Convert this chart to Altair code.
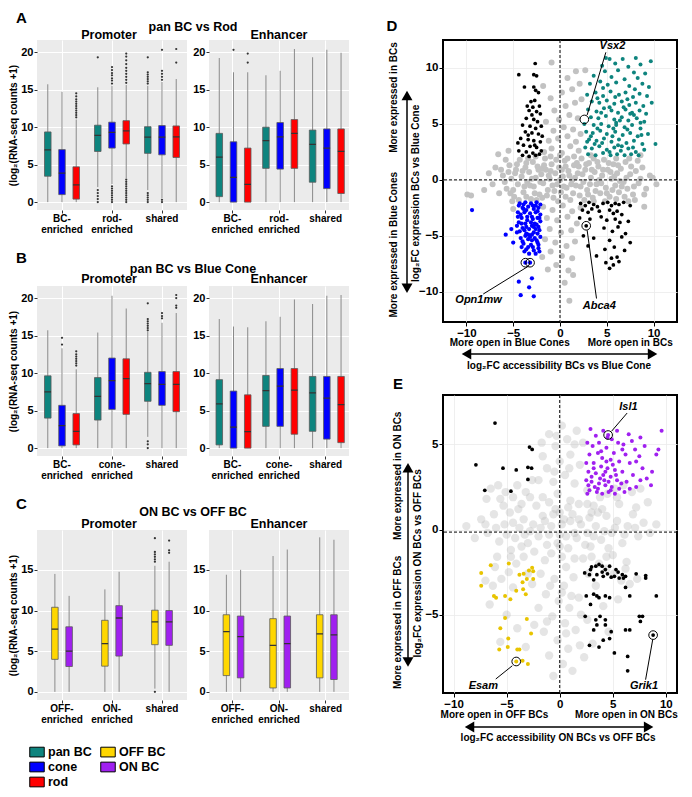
import altair as alt
import pandas as pd

FONT = "Liberation Sans"

# ---------------- categories / legend ----------------
SERIES_ROD = ["pan BC", "cone", "rod"]
SERIES_ONOFF = ["OFF BC", "ON BC"]
GROUPS_A = ["BC-enriched", "rod-enriched", "shared"]
GROUPS_B = ["BC-enriched", "cone-enriched", "shared"]
GROUPS_C = ["OFF-enriched", "ON-enriched", "shared"]
LEGEND_ORDER = ["pan BC", "cone", "rod", "OFF BC", "ON BC"]
LEGEND_COLORS = ["#0E847E", "#0000FF", "#FF0000", "#FFD700", "#A020F0"]

# ---------------- box-plot summaries: (lower whisker, Q1, median, Q3, upper whisker) ----------------
A_PROMOTER = [
    (0.0, 3.45, 6.95, 9.35, 15.7), (0.0, 1.0, 3.85, 7.0, 14.7), (0.0, 0.4, 2.3, 4.7, 11.0),
    (2.0, 6.75, 8.9, 10.25, 15.3), (2.4, 7.2, 9.3, 10.65, 15.5), (3.2, 7.75, 9.5, 10.85, 15.6),
    (1.6, 6.5, 8.65, 10.05, 15.5), (0.5, 6.3, 8.65, 10.2, 16.0), (0.0, 5.95, 8.7, 10.15, 16.4),
]
A_PROMOTER_OUTLIERS = [
    [], [], [11.3, 11.6, 11.9, 12.2, 12.5, 12.8, 13.1, 13.4, 13.7, 14.1, 14.5],
    [19.3, 0.0, 0.4, 0.8, 1.2, 1.6],
    [15.8, 16.2, 16.5, 16.9, 17.2, 17.6, 18.0, 0.0, 0.3, 0.6, 0.9, 1.2, 1.5, 1.8, 2.1],
    [15.9, 16.3, 16.7, 17.1, 17.5, 17.9, 18.4, 18.9, 19.4, 19.8, 0.0, 0.3, 0.6, 0.9, 1.2, 1.5, 1.8, 2.1, 2.4, 2.7, 3.0],
    [15.8, 16.1, 16.4, 16.7, 17.0, 17.3, 19.3, 0.0, 0.3, 0.6, 0.9, 1.2],
    [16.3, 16.7, 17.1, 17.5, 20.3, 0.0, 0.3],
    [18.6, 20.4],
]
A_ENHANCER = [
    (0.0, 0.73, 6.0, 9.16, 19.2), (0.0, 0.0, 3.3, 8.04, 17.3), (0.0, 0.0, 2.37, 7.2, 17.3),
    (0.0, 4.5, 8.2, 9.98, 16.9), (0.0, 4.4, 8.7, 10.6, 17.5), (0.0, 4.5, 9.15, 11.0, 20.4),
    (0.0, 2.65, 7.7, 9.6, 19.3), (0.0, 1.8, 7.2, 9.75, 20.3), (0.0, 1.15, 6.75, 9.75, 19.9),
]
A_ENHANCER_OUTLIERS = [[], [20.3], [18.6, 19.8], [], [], [], [], [], []]

B_PROMOTER = [
    (0.0, 4.0, 7.5, 9.63, 15.7), (0.0, 0.3, 3.0, 5.7, 13.3), (0.0, 0.43, 2.24, 4.6, 10.5),
    (0.0, 3.74, 6.9, 9.4, 15.4), (0.0, 5.16, 9.0, 12.0, 20.3), (0.0, 4.5, 9.25, 11.9, 18.6),
    (1.5, 6.24, 8.6, 10.1, 15.5), (0.0, 5.7, 8.5, 10.2, 16.7), (0.0, 4.86, 8.5, 10.2, 18.0),
]
B_PROMOTER_OUTLIERS = [
    [], [13.8, 14.7], [11.0, 11.3, 11.6, 11.9, 12.2, 12.5, 12.9],
    [], [], [],
    [15.7, 16.0, 16.3, 16.6, 16.9, 17.2, 19.3, 0.0, 0.5, 0.9], [17.3, 17.6, 18.0], [18.7, 19.0, 20.0, 20.4],
]
B_ENHANCER = [
    (0.0, 0.43, 5.9, 9.12, 17.2), (0.0, 0.0, 2.8, 7.6, 16.2), (0.0, 0.0, 2.2, 7.1, 16.1),
    (0.0, 2.9, 7.65, 9.68, 16.9), (0.0, 2.9, 8.26, 10.6, 17.5), (0.0, 1.85, 7.74, 10.6, 19.8),
    (0.0, 2.24, 7.35, 9.55, 19.2), (0.0, 1.2, 6.67, 9.55, 20.3), (0.0, 0.73, 5.8, 9.55, 20.4),
]
B_ENHANCER_OUTLIERS = [[], [], [], [], [], [], [], [], []]

C_PROMOTER = [
    (0.0, 4.0, 7.72, 10.4, 14.5), (0.0, 3.12, 5.0, 8.0, 11.8),
    (0.0, 3.16, 5.92, 8.8, 12.6), (0.0, 4.4, 9.08, 10.6, 14.76),
    (0.4, 5.8, 8.6, 10.04, 15.5), (0.0, 5.72, 8.6, 10.0, 16.0),
]
C_PROMOTER_OUTLIERS = [[], [], [], [], [16.0, 16.3, 16.6, 16.9, 17.2, 18.9, 0.0], [17.1, 17.4, 18.6]]
C_ENHANCER = [
    (0.0, 2.0, 7.4, 9.48, 14.4), (0.0, 1.72, 6.8, 9.32, 15.0),
    (0.0, 0.48, 5.72, 9.0, 16.7), (0.0, 0.48, 5.92, 9.32, 17.5),
    (0.0, 1.72, 7.12, 9.48, 19.0), (0.0, 1.52, 7.0, 9.48, 18.7),
]
C_ENHANCER_OUTLIERS = [[], [], [], [], [], []]

# ---------------- scatter D (log2FC accessibility, log2FC expression) ----------------
D_TEAL = [
    (4.9, 10.9), (5.3, 10.8), (6.7, 10.8), (8.1, 10.9), (9.7, 10.6), (4.5, 10.2), (5.9, 10.4), (7.3, 10.1),
    (8.6, 10.3), (4.8, 9.7), (6.2, 9.8), (7.9, 9.6), (9.1, 9.5), (3.6, 9.3), (5.5, 9.2), (6.9, 9.0),
    (8.3, 9.1), (3.2, 8.6), (4.3, 8.8), (5.1, 8.5), (6.0, 8.7), (7.4, 8.4), (8.8, 8.6), (9.5, 8.3),
    (2.9, 7.6), (3.8, 7.8), (4.6, 7.5), (5.4, 7.9), (6.3, 7.6), (7.0, 7.8), (7.8, 7.4), (8.5, 7.7),
    (9.3, 7.5), (3.4, 7.0), (4.2, 6.9), (5.0, 7.1), (5.8, 6.8), (6.6, 7.0), (7.4, 6.7), (8.1, 6.9),
    (8.9, 6.6), (9.8, 6.9), (3.0, 6.3), (3.9, 6.1), (4.7, 6.4), (5.5, 6.2), (6.2, 6.0), (7.0, 6.3),
    (7.7, 6.0), (8.5, 6.2), (9.2, 5.9), (3.3, 5.6), (4.1, 5.5), (4.9, 5.7), (5.8, 5.4), (6.6, 5.6),
    (7.3, 5.3), (8.2, 5.5), (9.0, 5.2), (2.6, 5.0), (3.6, 4.9), (4.4, 5.0), (5.2, 4.8), (6.0, 4.9),
    (6.9, 4.7), (7.7, 4.9), (8.6, 4.6), (10.2, 3.2), (2.8, 4.3), (3.5, 4.2), (4.3, 4.4), (5.0, 4.1),
    (5.9, 4.3), (6.7, 4.0), (7.5, 4.2), (8.3, 3.9), (9.4, 4.1), (3.1, 3.6), (3.9, 3.5), (4.7, 3.7),
    (5.5, 3.4), (6.3, 3.6), (7.1, 3.3), (7.9, 3.5), (8.8, 3.2), (2.7, 2.9), (3.4, 2.8), (4.2, 3.0),
    (5.0, 2.7), (5.8, 2.9), (6.5, 2.6), (7.3, 2.8), (8.1, 2.5), (9.0, 2.7), (3.0, 2.3), (3.8, 2.2),
    (4.6, 2.4), (5.4, 2.2), (6.1, 2.3), (6.9, 2.2), (7.6, 2.3), (8.4, 2.2), (5.3, 6.5), (6.8, 6.5),
    (4.4, 6.0), (6.0, 5.1), (7.9, 5.8), (5.6, 3.9), (4.0, 4.6), (7.2, 4.5), (3.7, 3.2), (6.2, 3.1),
    (4.5, 3.3), (5.3, 2.5), (6.6, 3.0), (7.8, 2.9), (8.7, 4.0), (5.7, 4.6), (6.4, 5.3), (7.5, 5.9),
    (4.0, 7.3), (5.9, 7.4), (7.2, 7.2), (8.0, 8.1), (4.6, 8.2), (3.3, 3.9), (2.9, 3.4), (8.6, 5.1),
]
D_BLACK_UP = [
    (-4.4, 9.4), (-2.65, 10.4), (-2.8, 9.4), (-2.5, 9.3), (-3.8, 8.3), (-2.8, 8.3), (-2.6, 8.0), (-2.3, 7.8),
    (-3.1, 7.0), (-2.7, 7.1), (-3.5, 6.6), (-2.9, 6.5), (-2.2, 6.6), (-3.3, 6.2), (-2.5, 6.1), (-3.0, 5.8),
    (-2.1, 5.9), (-3.6, 5.5), (-2.8, 5.4), (-2.4, 5.2), (-4.0, 4.9), (-3.2, 4.8), (-2.6, 4.6), (-2.0, 4.8),
    (-3.7, 4.3), (-3.0, 4.2), (-2.3, 4.1), (-4.2, 3.7), (-3.4, 3.6), (-2.8, 3.5), (-2.1, 3.4), (-3.9, 3.1),
    (-3.2, 3.0), (-2.5, 2.9), (-4.4, 2.6), (-3.6, 2.5), (-2.9, 2.4), (-2.2, 2.3), (-4.0, 2.2), (-3.3, 2.1),
    (-2.6, 2.2), (-2.0, 2.6), (-4.5, 3.3), (-1.9, 3.9), (-3.4, 4.0), (-2.7, 3.1),
]
D_BLUE = [
    (-4.3, -2.1), (-3.7, -2.0), (-3.1, -2.1), (-2.5, -2.0), (-2.1, -2.2), (-4.0, -2.5), (-3.4, -2.4),
    (-2.8, -2.6), (-2.3, -2.5), (-4.5, -2.9), (-3.8, -2.9), (-3.2, -3.0), (-2.6, -2.9), (-2.1, -3.1),
    (-4.1, -3.4), (-3.5, -3.3), (-2.9, -3.5), (-2.4, -3.4), (-4.4, -3.8), (-3.7, -3.9), (-3.1, -3.8),
    (-2.5, -4.0), (-2.1, -3.7), (-4.0, -4.3), (-3.3, -4.4), (-2.8, -4.2), (-2.2, -4.5), (-4.6, -4.7),
    (-3.6, -4.8), (-3.0, -4.9), (-2.4, -4.8), (-4.2, -5.2), (-3.4, -5.3), (-2.7, -5.2), (-2.1, -5.1),
    (-3.9, -5.7), (-3.1, -5.8), (-2.4, -5.6), (-3.6, -6.2), (-2.8, -6.3), (-2.3, -6.1), (-3.3, -6.6),
    (-3.9, -2.2), (-2.9, -2.3), (-4.2, -3.1), (-3.5, -3.6), (-2.7, -3.9), (-3.8, -4.5), (-2.6, -4.4),
    (-3.2, -5.1), (-2.5, -5.4), (-3.7, -5.0), (-4.4, -2.3), (-3.6, -2.7), (-2.4, -2.8), (-4.1, -3.9),
    (-3.0, -4.1), (-2.3, -4.2), (-4.3, -4.6), (-3.4, -4.9), (-2.8, -4.7), (-4.0, -5.5), (-3.0, -5.4),
    (-2.3, -5.8), (-3.4, -6.0), (-2.6, -6.6), (-4.5, -3.3), (-3.0, -3.3), (-2.2, -3.4), (-3.9, -2.6),
    (-2.6, -2.3), (-4.6, -4.1), (-3.6, -4.2), (-2.9, -6.0), (-3.8, -6.4), (-2.2, -6.4), (-4.1, -6.0),
    (-9.4, -2.7), (-5.8, -4.9), (-5.2, -4.4), (-5.0, -5.6), (-3.7, -7.4), (-3.2, -7.4), (-4.4, -9.1),
    (-3.0, -8.8), (-3.3, -9.6), (-4.2, -10.3), (-2.8, -10.4),
]
D_BLACK_DOWN = [
    (2.2, -2.1), (2.7, -2.3), (3.1, -2.0), (3.6, -2.2), (4.0, -2.4), (4.6, -2.1), (5.1, -2.0), (5.5, -2.3),
    (5.9, -2.1), (6.3, -2.2), (6.8, -2.0), (7.5, -2.3), (2.4, -2.7), (3.0, -2.9), (3.4, -2.6), (4.2, -2.8),
    (5.3, -2.7), (5.7, -3.0), (6.1, -2.8), (6.6, -3.1), (2.1, -3.4), (3.2, -3.5), (4.4, -3.3), (5.0, -3.6),
    (5.9, -3.5), (6.4, -3.8), (7.3, -3.7), (2.8, -4.1), (4.7, -4.3), (5.6, -4.6), (6.2, -4.2), (7.0, -4.8),
    (2.5, -5.0), (3.6, -5.2), (5.3, -5.4), (6.6, -5.1), (7.5, -5.6), (3.0, -5.9), (4.8, -6.2), (5.8, -6.0),
    (6.9, -6.3), (3.9, -6.8), (5.5, -7.0), (6.1, -6.9), (4.9, -7.4), (5.7, -7.6), (6.3, -7.3), (5.3, -7.9),
]
D_GRAY = [
    (-6.1, 0.4), (-5.7, -0.8), (-5.4, 1.3), (-5.2, 0.1), (-4.9, -1.5), (-4.7, 0.9), (-4.5, -0.4), (-4.3, 1.8),
    (-4.1, 0.3), (-3.9, -1.1), (-3.7, 1.1), (-3.5, -0.2), (-3.3, 0.7), (-3.1, -1.7), (-2.9, 1.6), (-2.8, -0.6),
    (-2.6, 0.2), (-2.4, 1.2), (-2.2, -1.3), (-2.0, 0.5), (-1.8, -0.3), (-1.6, 1.9), (-1.5, 0.9), (-1.3, -0.9),
    (-1.1, 0.1), (-0.9, 1.4), (-0.7, -1.6), (-0.5, 0.6), (-0.3, -0.4), (-0.1, 1.1), (0.1, -1.1), (0.3, 0.3),
    (0.5, 1.7), (0.7, -0.7), (0.9, 0.8), (1.1, -1.8), (1.3, 0.0), (1.5, 1.3), (1.7, -0.5), (1.9, 0.6),
    (2.1, -1.4), (2.3, 1.9), (2.5, -0.2), (2.7, 0.9), (2.9, -0.9), (3.1, 1.5), (3.3, 0.2), (3.5, -1.6),
    (3.7, 0.7), (3.9, -0.4), (4.1, 1.2), (4.3, -1.2), (4.5, 0.4), (4.7, 1.8), (4.9, -0.7), (5.1, 0.9),
    (5.3, -1.5), (5.5, 0.1), (5.7, 1.4), (5.9, -0.5), (6.1, 0.6), (6.3, -1.1), (6.5, 1.0), (6.8, -0.2),
    (7.0, 1.6), (7.2, -0.8), (7.5, 0.5), (7.8, -1.3), (8.1, 0.8), (8.4, -0.3), (8.8, 1.1), (9.2, -0.8),
    (9.6, 0.4), (-4.8, 0.6), (-3.6, 1.5), (-3.2, -0.5), (-2.5, -1.8), (-1.9, 1.0), (-1.2, 0.4), (-0.6, -1.0),
    (0.0, 0.0), (0.6, 1.2), (1.2, -0.4), (1.8, 1.5), (2.4, 0.5), (3.0, -1.3), (3.6, 1.9), (4.2, 0.0),
    (4.8, -1.9), (5.4, 0.7), (6.0, 1.9), (6.6, -0.6), (7.4, 1.9), (8.0, -1.8), (-5.8, 1.8), (-6.5, -1.2),
    (-5.1, -1.9), (-1.7, 2.5), (-0.9, 2.8), (0.2, 2.4), (1.1, 3.0), (2.0, 2.6), (-1.2, 3.5), (-0.2, 3.7),
    (0.8, 3.9), (1.7, 3.4), (-0.7, 4.4), (0.4, 4.7), (1.4, 4.5), (2.2, 4.1), (-1.5, 5.2), (-0.1, 5.4),
    (1.0, 5.8), (1.9, 5.5), (-0.6, 6.2), (0.6, 6.6), (1.6, 6.9), (2.3, 7.2), (-1.0, 7.3), (0.2, 7.8),
    (1.3, 8.1), (2.1, 8.6), (0.8, 9.1), (-0.9, 10.5), (1.7, 9.7), (-1.8, 8.4), (2.7, 9.8), (-1.8, -2.4),
    (-0.8, -2.7), (0.3, -2.3), (1.3, -2.8), (2.2, -2.5), (-1.4, -3.4), (-0.3, -3.6), (0.8, -3.3), (1.8, -3.9),
    (-1.1, -4.4), (0.1, -4.7), (1.2, -4.5), (-1.6, -5.3), (-0.5, -5.6), (0.7, -5.9), (1.6, -5.5), (-1.0, -6.4),
    (0.2, -6.8), (1.3, -7.0), (-0.4, -7.6), (0.9, -8.1), (1.4, -8.5), (-1.3, -8.0), (0.5, -9.2), (1.0, -10.8),
    (-1.9, -6.9), (-9.9, -1.3), (-9.5, -1.4), (-7.6, 0.6), (-7.2, -0.4), (-6.9, 1.1), (-8.1, -0.9), (-6.6, 2.3),
    (9.9, 0.2), (10.3, -0.4), (9.0, -2.4), (8.6, 2.2), (-5.5, 2.6), (-5.0, -2.6),
    (-5.9, -0.2), (-5.5, 0.7), (-5.0, -0.9), (-4.6, 1.4), (-4.4, -1.8), (-4.0, 0.8), (-3.8, -0.6), (-3.4, 1.9),
    (-3.0, 0.1), (-2.7, -1.2), (-2.3, 0.9), (-2.1, -0.2), (-1.7, 1.3), (-1.4, -1.4), (-1.0, 0.8), (-0.8, -0.5),
    (-0.4, 1.8), (-0.2, -1.9), (0.2, 0.9), (0.4, -0.6), (0.8, 1.9), (1.0, 0.4), (1.4, -1.2), (1.6, 0.2),
    (2.0, 1.2), (2.2, -0.6), (2.6, -1.8), (2.8, 1.4), (3.2, -0.4), (3.4, 0.9), (3.8, -1.0), (4.0, 1.6),
    (4.4, -0.3), (4.6, 0.9), (5.0, -1.2), (5.2, 1.5), (5.6, -0.9), (5.8, 0.3), (6.2, 1.3), (6.4, -0.1),
    (6.9, -1.5), (7.1, 0.2), (7.6, 1.2), (7.9, -0.6), (8.3, 1.7), (8.6, 0.1), (9.0, -1.3), (-6.3, 0.9),
    (-5.3, -1.2), (-3.6, -1.5), (-1.9, -1.6), (0.6, -1.5), (3.6, -1.9), (6.0, -1.7), (7.3, -1.9), (-1.0, 2.1),
    (1.5, 2.1), (0.0, 2.2), (-2.6, 2.1), (3.3, 2.2),
]
D_CIRCLES = [(2.6, 5.4), (2.8, -4.1), (-3.7, -7.4), (-3.2, -7.4)]
D_LEADERS = [(2.9, 5.8, 4.9, 11.4), (2.9, -4.5, 3.9, -10.6), (-3.35, -7.7, -8.2, -10.2)]
D_GENES = [("Vsx2", 5.6, 12.0), ("Abca4", 4.2, -11.3), ("Opn1mw", -8.7, -10.7)]

# ---------------- scatter E ----------------
E_PURPLE = [
    (2.9, 5.9), (4.1, 5.8), (5.4, 5.8), (6.5, 5.6), (7.6, 5.4), (9.6, 5.8), (9.3, 4.7), (2.6, 5.1),
    (3.7, 5.1), (4.9, 5.3), (6.8, 5.2), (7.1, 4.7), (5.9, 4.7), (8.6, 2.6), (3.1, 4.9), (4.4, 4.8),
    (5.1, 4.5), (6.2, 4.4), (7.5, 4.3), (8.0, 4.9), (2.8, 4.4), (3.6, 4.5), (4.0, 4.2), (4.8, 4.1),
    (5.6, 4.0), (6.6, 3.9), (7.8, 3.6), (8.7, 3.4), (2.5, 3.9), (3.2, 3.9), (3.9, 3.7), (4.5, 3.6),
    (5.2, 3.5), (5.9, 3.4), (6.9, 3.2), (7.6, 2.9), (2.7, 3.4), (3.4, 3.3), (4.1, 3.2), (4.8, 3.1),
    (5.4, 2.9), (6.3, 2.8), (7.2, 2.5), (2.5, 2.9), (3.0, 2.8), (3.7, 2.7), (4.3, 2.6), (4.9, 2.5),
    (5.6, 2.4), (6.1, 2.2), (2.8, 2.3), (3.5, 2.2), (4.0, 2.1), (4.6, 2.2), (5.2, 2.1), (3.3, 2.5),
    (4.2, 2.9), (3.8, 3.0), (4.6, 2.8), (3.2, 3.6), (5.0, 3.8), (4.4, 4.0), (2.7, 2.6), (5.8, 2.7),
    (6.6, 2.4), (8.2, 3.0), (9.1, 4.4), (7.2, 4.0), (6.0, 5.0), (3.4, 5.5), (4.5, 5.4), (5.5, 5.1),
    (4.56, 5.55), (3.0, 3.1), (3.6, 2.4), (4.3, 3.4), (5.3, 3.2), (3.9, 4.6), (2.6, 2.1), (4.8, 2.3),
]
E_BLACK_UP = [
    (-7.9, 3.8), (-7.06, 2.3), (-5.35, 3.6), (-4.6, 2.25), (-4.1, 3.5), (-3.0, 3.65), (-2.65, 3.6),
    (-3.0, 2.94), (-2.85, 4.84), (-2.6, 4.7), (-6.1, 6.25),
]
E_YELLOW = [
    (-7.4, -2.55), (-6.5, -2.1), (-4.8, -2.0), (-7.4, -3.3), (-6.2, -3.9), (-6.0, -4.0), (-5.15, -3.9),
    (-4.1, -3.6), (-3.4, -2.6), (-3.1, -2.9), (-2.6, -2.25), (-2.5, -2.9), (-3.5, -3.1), (-3.2, -3.8),
    (-5.15, -5.2), (-3.1, -5.25), (-5.6, -5.8), (-2.7, -6.1), (-4.85, -6.4), (-4.9, -6.9), (-4.0, -7.05),
    (-3.8, -7.05), (-4.1, -7.75), (-3.5, -7.7), (-3.0, -7.9), (-5.7, -7.05), (-2.9, -2.4), (-2.5, -2.45),
    (-3.8, -2.65), (-4.65, -4.1), (-3.45, -3.5),
]
E_BLACK_DOWN = [
    (2.35, -2.55), (2.9, -2.35), (3.4, -2.15), (3.7, -2.05), (4.0, -2.15), (4.3, -2.35), (4.7, -2.15),
    (5.3, -2.35), (3.5, -2.65), (4.1, -2.75), (4.85, -2.8), (5.6, -2.85), (6.0, -2.85), (6.2, -2.75),
    (7.2, -2.6), (8.1, -2.7), (8.1, -2.85), (3.2, -2.95), (2.8, -2.65), (5.15, -2.75), (5.9, -2.65),
    (6.2, -3.4), (2.5, -3.9), (2.9, -4.4), (3.2, -3.8), (3.5, -3.9), (3.7, -4.0), (4.3, -3.9), (4.7, -4.0),
    (6.6, -3.9), (9.1, -3.9), (2.4, -5.1), (3.4, -5.3), (3.8, -5.1), (4.3, -5.3), (3.5, -5.6), (3.2, -5.9),
    (4.3, -5.6), (4.85, -6.0), (6.2, -5.9), (6.6, -5.9), (7.5, -5.1), (7.8, -5.1), (7.6, -5.4), (2.8, -6.8),
    (3.7, -6.9), (4.7, -6.4), (5.15, -7.25), (6.4, -7.45), (6.4, -8.3), (8.8, -6.2), (4.1, -6.5),
    (4.5, -2.6), (3.0, -2.2), (5.5, -2.5), (4.0, -2.5),
]
E_GRAY = [
    (-2.5, 0.3), (-2.0, -0.4), (-1.6, 0.8), (-1.2, -0.9), (-0.8, 0.2), (-0.4, 1.2), (0.0, -0.3), (0.4, 0.6),
    (0.8, -1.1), (1.2, 0.9), (1.6, -0.5), (2.0, 0.3), (2.4, -0.9), (2.8, 0.7), (-3.0, -0.8), (-3.4, 0.6),
    (-1.0, 1.6), (0.2, -1.6), (1.0, 1.7), (-0.2, 2.1), (0.6, -2.2), (-1.4, -1.8), (1.8, 1.5), (2.2, -1.7),
    (-2.2, 1.4), (-8.8, 0.2), (-8.0, -0.5), (-7.4, 0.6), (-6.8, -0.2), (-6.2, 0.9), (-5.7, -0.7), (-5.2, 0.3),
    (-4.7, 1.0), (-4.2, -0.5), (-3.8, 0.1), (3.4, 0.2), (3.9, -0.6), (4.4, 0.8), (4.9, -0.2), (5.4, 0.5),
    (5.9, -0.8), (6.4, 0.2), (6.9, 0.9), (7.4, -0.4), (7.9, 0.4), (8.5, -0.2), (9.1, 0.3), (-3.6, 1.5),
    (-4.4, 1.9), (-5.1, 2.2), (-5.8, 2.6), (-6.5, 2.4), (-4.0, 2.6), (-3.2, 2.2), (-2.6, 2.9), (-5.3, 1.4),
    (-6.9, 1.8), (3.2, 1.4), (3.8, 1.9), (4.5, 2.1), (5.2, 2.4), (6.0, 2.6), (6.8, 2.2), (7.6, 2.4),
    (2.6, 2.3), (5.6, 1.5), (7.2, 1.3), (8.3, 1.6), (-3.4, -1.6), (-4.1, -2.0), (-4.8, -2.5), (-5.5, -2.9),
    (-6.3, -3.3), (-7.0, -3.0), (-3.0, -2.6), (-5.9, -1.6), (-4.4, -3.4), (-2.6, -3.2), (-6.6, -4.4),
    (-5.0, -5.0), (-4.0, -5.8), (-5.6, -6.6), (-3.2, -6.9), (3.0, -1.6), (3.7, -2.0), (4.4, -2.3),
    (5.1, -2.6), (5.8, -3.0), (6.6, -3.2), (7.3, -2.9), (2.7, -2.6), (5.0, -1.5), (6.3, -1.9), (3.4, -3.3),
    (4.1, -4.5), (5.5, -4.1), (2.6, -5.3), (4.6, -6.0), (3.1, -6.7), (-0.6, 2.8), (0.5, 3.2), (1.4, 2.7),
    (-1.2, 3.6), (0.0, 4.0), (1.0, 4.4), (1.9, 3.8), (-0.4, 4.9), (0.7, 5.3), (1.6, 5.8), (-1.0, 5.6),
    (0.2, 6.1), (2.2, 5.1), (-1.6, 4.3), (-2.0, 2.9), (-0.5, -2.9), (0.4, -3.3), (1.3, -2.8), (-1.3, -3.8),
    (-0.1, -4.2), (0.9, -4.6), (1.8, -4.0), (-0.7, -5.1), (0.5, -5.5), (1.5, -5.9), (-1.5, -6.0), (-0.2, -6.5),
    (0.8, -7.0), (1.9, -6.8), (-1.0, -7.4), (0.3, -7.9), (1.2, -8.3), (-2.0, -4.6), (2.3, -7.5), (-0.6, -8.6),
    (-2.8, 1.9), (-1.8, -2.6), (2.9, -1.0), (3.0, 1.0), (-3.6, -1.0), (4.0, 1.2), (-4.6, -1.2), (4.6, -1.1),
    (-1.8, 0.1), (-1.4, 0.5), (-1.0, -0.3), (-0.6, 0.9), (-0.2, -0.8), (0.2, 0.3), (0.6, -0.4), (1.0, 0.5),
    (1.4, -0.2), (1.8, 0.6), (-2.8, -0.1), (2.6, -0.2), (-3.3, -0.3), (3.2, -0.4), (-4.4, 0.4), (4.2, -0.1),
    (-5.0, -0.3), (5.2, 0.1), (-6.0, 0.1), (6.1, -0.3), (-7.0, 0.3), (7.1, 0.1), (-0.8, -1.4), (0.8, 1.3),
    (-1.6, 1.9), (1.4, -1.7), (-2.4, -1.3), (2.6, 1.5), (-3.9, 1.2), (3.6, 1.0), (-4.6, -1.6), (4.4, -1.6),
    (-5.6, 1.8), (5.4, 1.9), (-6.1, -2.2), (6.2, -2.3), (0.0, 1.0), (0.0, -1.0), (-0.5, 3.4), (0.9, 3.6),
    (0.2, -3.7), (-0.9, -3.3), (1.1, -3.9), (-0.3, 5.5), (0.6, -6.1), (-1.2, -5.4), (1.4, 5.0), (2.0, -5.0),
    (-1.7, 5.1), (-2.4, -5.6),
]
E_CIRCLES = [(4.56, 5.55), (-4.1, -7.75), (8.8, -6.2)]
E_LEADERS = [(4.88, 5.77, 6.35, 6.84), (-4.47, -8.0, -6.03, -8.78), (8.76, -6.47, 8.09, -8.82)]
E_GENES = [("Isl1", 6.47, 7.2), ("Esam", -7.2, -9.16), ("Grik1", 7.94, -9.16)]
E_ZERO_LINE = -0.15

ONE = pd.DataFrame({"k": [0]})
LABEL_EXPR = ("indexof(datum.label, '-') > 0 ? [slice(datum.label, 0, indexof(datum.label, '-') + 1), "
              "slice(datum.label, indexof(datum.label, '-') + 1)] : datum.label")

FILL = alt.Fill(
    "series:N",
    scale=alt.Scale(domain=LEGEND_ORDER, range=LEGEND_COLORS),
    legend=alt.Legend(
        title=None, orient="none", legendX=-8, legendY=704, columns=2,
        symbolType="M-1,-0.67L1,-0.67L1,0.67L-1,0.67Z", symbolSize=210,
        symbolStrokeColor="black", symbolStrokeWidth=1, symbolOpacity=1,
        labelFont=FONT, labelFontSize=12.5, labelFontWeight="bold", labelColor="black",
        labelOffset=3, rowPadding=0, columnPadding=6, padding=0,
    ),
)


def text(t, x, y, size, angle=0, align="center", baseline="middle", style="normal", opacity=1):
    return alt.Chart(ONE).mark_text(
        text=t, font=FONT, fontSize=size, fontWeight="bold", fontStyle=style, angle=angle,
        align=align, baseline=baseline, color="black", opacity=opacity,
    ).encode(x=alt.value(x), y=alt.value(y))


def box_panel(groups, series, stats, outliers, width, height, ydomain, off_pad, ytitle, extra):
    n = len(series)
    rows, orows = [], []
    for i, (lo, q1, md, q3, hi) in enumerate(stats):
        g, s = groups[i // n], series[i % n]
        rows.append({"group": g, "series": s, "lo": lo, "q1": q1, "med": md, "q3": q3, "hi": hi})
        for v in outliers[i]:
            orows.append({"group": g, "series": s, "v": v})
    df = pd.DataFrame(rows)
    odf = pd.DataFrame(orows, columns=["group", "series", "v"])

    x = alt.X("group:N", sort=groups, scale=alt.Scale(paddingInner=0.3, paddingOuter=0.15),
              axis=alt.Axis(title=None, labelExpr=LABEL_EXPR, labelAngle=0, labelFont=FONT,
                            labelFontSize=10, labelFontWeight="bold", labelColor="black",
                            labelBaseline="middle", labelPadding=5, labelLineHeight=11.5,
                            tickSize=3, tickColor="#333333", domain=False, grid=True,
                            gridColor="white", gridWidth=1, bandPosition=0.5))
    xo = alt.XOffset("series:N", sort=series, scale=alt.Scale(paddingInner=off_pad, paddingOuter=0))
    yax = alt.Axis(values=[0, 5, 10, 15, 20], title=ytitle, titleFont=FONT, titleFontSize=10,
                   titleFontWeight="bold", titleColor="black", titlePadding=2, labelFont=FONT,
                   labelFontSize=11, labelFontWeight="bold", labelColor="black", labelPadding=1,
                   tickSize=3, tickColor="#333333", domain=False, grid=True, gridColor="white", gridWidth=1)
    ysc = alt.Scale(domain=ydomain, nice=False, zero=False)

    whisk = alt.Chart(df).mark_rule(color="#8a8a8a", strokeWidth=1).encode(
        x=x, xOffset=xo, y=alt.Y("lo:Q", scale=ysc, axis=yax), y2="hi:Q")
    box = alt.Chart(df).mark_bar(stroke="#5a5a5a", strokeWidth=0.8).encode(
        x=x, xOffset=xo, y=alt.Y("q1:Q", scale=ysc, axis=yax), y2="q3:Q", fill=FILL)
    med = alt.Chart(df).mark_bar(color="#333333", stroke="#333333", strokeWidth=1.3).encode(
        x=x, xOffset=xo, y=alt.Y("med:Q", scale=ysc, axis=yax), y2="med:Q")
    out = alt.Chart(odf).mark_circle(color="#333333", size=5, opacity=1).encode(
        x=x, xOffset=xo, y=alt.Y("v:Q", scale=ysc, axis=yax))
    return alt.layer(whisk, box, med, out, *extra).properties(
        width=width, height=height, view=alt.ViewBackground(fill="#EBEBEB", stroke=None))


def scatter_panel(xdom, ydom, width, height, clouds, hline, circles, leaders, genes, extra):
    xs = alt.Scale(domain=xdom, nice=False, zero=False)
    ys = alt.Scale(domain=ydom, nice=False, zero=False)
    ax = dict(values=[-10, -5, 0, 5, 10], title=None, labelFont=FONT, labelFontSize=11.5,
              labelFontWeight="bold", labelColor="black", labelPadding=1, tickColor="black",
              tickSize=4, tickWidth=1, domain=False, grid=True, gridColor="#EBEBEB", gridWidth=0.8)
    X = alt.X("x:Q", scale=xs, axis=alt.Axis(**ax))
    Y = alt.Y("y:Q", scale=ys, axis=alt.Axis(**ax))
    layers = []
    for pairs, color, size, opacity in clouds:
        layers.append(alt.Chart(pd.DataFrame(pairs, columns=["x", "y"])).mark_circle(
            color=color, size=size, opacity=opacity).encode(x=X, y=Y))
    layers.append(alt.Chart(pd.DataFrame({"x": [0.0]})).mark_rule(
        color="black", strokeDash=[3, 2], strokeWidth=1).encode(x=X))
    layers.append(alt.Chart(pd.DataFrame({"y": [hline]})).mark_rule(
        color="black", strokeDash=[3, 2], strokeWidth=1).encode(y=Y))
    layers.append(alt.Chart(pd.DataFrame(circles, columns=["x", "y"])).mark_point(
        shape="circle", filled=False, color="black", size=75, strokeWidth=1, opacity=1).encode(x=X, y=Y))
    layers.append(alt.Chart(pd.DataFrame(leaders, columns=["x", "y", "x2", "y2"])).mark_rule(
        color="black", strokeWidth=1).encode(x=X, y=Y, x2="x2:Q", y2="y2:Q"))
    layers.append(alt.Chart(pd.DataFrame(genes, columns=["gene", "x", "y"])).mark_text(
        font=FONT, fontSize=11, fontWeight="bold", fontStyle="italic", color="black",
        baseline="middle").encode(x=X, y=Y, text="gene:N"))
    return alt.layer(*layers, *extra).properties(
        width=width, height=height,
        view=alt.ViewBackground(fill="white", stroke="black", strokeWidth=2))


def arrow_h(x1, x2, y):
    return [
        alt.Chart(ONE).mark_rule(color="black", strokeWidth=1.5).encode(
            x=alt.value(x1 + 4), x2=alt.value(x2 - 4), y=alt.value(y)),
        alt.Chart(ONE).mark_point(shape="triangle-left", filled=True, color="black", size=120, opacity=1).encode(
            x=alt.value(x1 + 5), y=alt.value(y)),
        alt.Chart(ONE).mark_point(shape="triangle-right", filled=True, color="black", size=120, opacity=1).encode(
            x=alt.value(x2 - 5), y=alt.value(y)),
    ]


def arrow_v(x, y1, y2):
    return [
        alt.Chart(ONE).mark_rule(color="black", strokeWidth=1.5).encode(
            x=alt.value(x), y=alt.value(y1 + 4), y2=alt.value(y2 - 4)),
        alt.Chart(ONE).mark_point(shape="triangle-up", filled=True, color="black", size=120, opacity=1).encode(
            x=alt.value(x), y=alt.value(y1 + 5)),
        alt.Chart(ONE).mark_point(shape="triangle-down", filled=True, color="black", size=120, opacity=1).encode(
            x=alt.value(x), y=alt.value(y2 - 5)),
    ]


# ---------------- left column ----------------
WP, WE, HB, GAP = 150, 140, 170, 22
YT = "(log\u2082(RNA-seq counts +1)"


def box_row(letter, title, groups, series, prom, prom_out, enh, enh_out, ydom, off_pad, offs):
    ly, ty, fy = offs
    center = (WP + GAP + WE) / 2
    p = box_panel(groups, series, prom, prom_out, WP, HB, ydom, off_pad, YT, [
        text(letter, -21, ly, 15, align="left"),
        text(title, center, ty, 12.5),
        text("Promoter", WP / 2 - 3, fy, 12.5),
    ])
    e = box_panel(groups, series, enh, enh_out, WE, HB, ydom, off_pad, None, [
        text("Enhancer", WE / 2, fy, 12.5),
    ])
    return alt.hconcat(p, e, spacing=GAP, bounds="flush")


rowA = box_row("A", "pan BC vs Rod", GROUPS_A, SERIES_ROD, A_PROMOTER, A_PROMOTER_OUTLIERS,
               A_ENHANCER, A_ENHANCER_OUTLIERS, [-1.05, 21.6], 0.08, (-22, -13, -5))
rowB = box_row("B", "pan BC vs Blue Cone", GROUPS_B, SERIES_ROD, B_PROMOTER, B_PROMOTER_OUTLIERS,
               B_ENHANCER, B_ENHANCER_OUTLIERS, [-1.05, 21.6], 0.08, (-28, -17, -7))
rowC = box_row("C", "ON BC vs OFF BC", GROUPS_C, SERIES_ONOFF, C_PROMOTER, C_PROMOTER_OUTLIERS,
               C_ENHANCER, C_ENHANCER_OUTLIERS, [-1.0, 19.9], 0.1, (-26, -18, -6))
left = alt.vconcat(rowA, rowB, rowC, spacing=16)

# ---------------- right column ----------------
WD, HD, HE = 234, 282, 298
LOG2 = "log\u2082FC"

D = scatter_panel(
    [-12.5, 12.5], [-12.7, 12.5], WD, HD,
    [(D_GRAY, "#C2C2C2", 36, 1), (D_TEAL, "#0E847E", 16, 1), (D_BLACK_UP, "black", 14, 1),
     (D_BLUE, "#0000FF", 18, 1), (D_BLACK_DOWN, "black", 14, 1)],
    0.0, D_CIRCLES, D_LEADERS, D_GENES,
    [text("D", -51, -14, 15),
     text("More expressed in BCs", -49, 0.204 * HD, 10, angle=270),
     text("More expressed in Blue Cones", -49, 0.726 * HD, 10, angle=270),
     text(LOG2 + " expression BCs vs Blue Cone", -27, 0.544 * HD, 10, angle=270),
     text("More open in Blue Cones", 0.285 * WD, HD + 21, 10),
     text("More open in BCs", 0.80 * WD, HD + 21, 10),
     text(LOG2 + " accessibility BCs vs Blue Cone", 0.496 * WD, HD + 44, 10),
     *arrow_v(-36, 0.179 * HD, 0.898 * HD),
     *arrow_h(0.079 * WD, 0.917 * WD, HD + 32)],
)

E = scatter_panel(
    [-11.0, 11.05], [-9.6, 7.9], WD, HE,
    [(E_GRAY, "#BDBDBD", 70, 0.4), (E_PURPLE, "#A020F0", 16, 1), (E_BLACK_UP, "black", 14, 1),
     (E_YELLOW, "#E8C400", 16, 1), (E_BLACK_DOWN, "black", 14, 1)],
    E_ZERO_LINE, E_CIRCLES, E_LEADERS, E_GENES,
    [text("E", -45, -11, 15),
     text("More expressed in ON BCs", -45, 0.271 * HE, 10, angle=270),
     text("More expressed in OFF BCs", -45, 0.763 * HE, 10, angle=270),
     text(LOG2 + " expression ON BCs vs OFF BCs", -25, 0.565 * HE, 10, angle=270),
     text("More open in OFF BCs", 0.22 * WD, HE + 22, 10),
     text("More open in ON BCs", 0.784 * WD, HE + 22, 10),
     text(LOG2 + " accessibility ON BCs vs OFF BCs", 0.492 * WD, HE + 45, 10),
     *arrow_v(-35, 0.227 * HE, 0.913 * HE),
     *arrow_h(0.092 * WD, 0.90 * WD, HE + 34)],
)

right = alt.vconcat(D, E, spacing=4)

chart = alt.hconcat(left, right, spacing=36).properties(
    padding={"top": 3, "left": 0, "right": 0, "bottom": 0}
).configure(font=FONT)

chart.save("out.html", embed_options={"renderer": "svg", "actions": False})
